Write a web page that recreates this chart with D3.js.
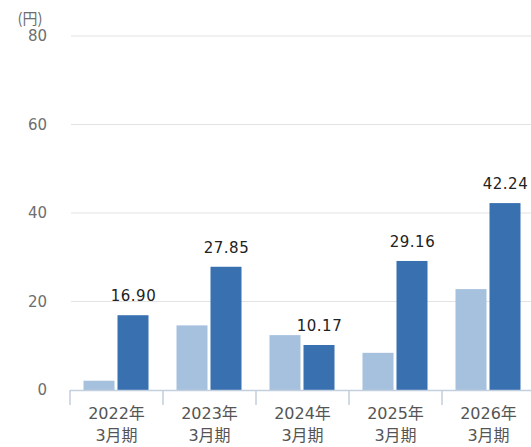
<!DOCTYPE html>
<html><head><meta charset="utf-8">
<script src="https://cdn.jsdelivr.net/npm/d3@7"></script>
<style>body{margin:0;background:#fff;}svg{display:block;font-family:"DejaVu Sans","Noto Sans CJK JP",sans-serif;}</style>
</head><body>
<svg id="c" width="531" height="447"></svg>
<script>
const categories = ["2022年\n3月期","2023年\n3月期","2024年\n3月期","2025年\n3月期","2026年\n3月期"];
const seriesLight = [2.1, 14.6, 12.4, 8.4, 22.8];
const seriesDark = [16.90, 27.85, 10.17, 29.16, 42.24];
const darkLabels = ["16.90","27.85","10.17","29.16","42.24"];
const yTicks = [0, 20, 40, 60, 80];

const svg = d3.select("#c");
const x = d3.scaleBand().domain(categories).range([70, 535]).paddingInner(0).paddingOuter(0);
const y = d3.scaleLinear().domain([0, 80]).range([390, 36]);

// gridlines
svg.append("g").selectAll("line").data(yTicks.filter(d=>d>0)).join("line")
  .attr("x1", 71).attr("x2", 531).attr("y1", d=>y(d)).attr("y2", d=>y(d))
  .attr("stroke", "#e3e3e3").attr("stroke-width", 1.2);

// y labels
svg.append("g").selectAll("text").data(yTicks).join("text")
  .attr("x", 47).attr("y", d=>y(d)).attr("dy", "0.36em").attr("text-anchor", "end")
  .attr("fill", "#6e6e6e").attr("font-size", 15).text(d=>d);
svg.append("text").attr("x", 30).attr("y", 24).attr("text-anchor", "middle")
  .attr("fill", "#6e6e6e").attr("font-size", 15).attr("font-family", "'Noto Sans CJK JP',sans-serif").text("(円)");

const bw = 31, gap = 3;
const idx = d3.range(categories.length);
// light bars
svg.append("g").selectAll("rect").data(idx).join("rect")
  .attr("x", i => x(categories[i]) + x.bandwidth()/2 - bw - gap/2 - 0.5)
  .attr("y", i => y(seriesLight[i])).attr("width", bw)
  .attr("height", i => y(0) - y(seriesLight[i])).attr("fill", "#a6c1de");
// dark bars
svg.append("g").selectAll("rect").data(idx).join("rect")
  .attr("x", i => x(categories[i]) + x.bandwidth()/2 + gap/2 - 0.5)
  .attr("y", i => y(seriesDark[i])).attr("width", bw)
  .attr("height", i => y(0) - y(seriesDark[i])).attr("fill", "#3870b0");
// labels
svg.append("g").selectAll("text").data(idx).join("text")
  .attr("x", i => x(categories[i]) + x.bandwidth()/2 + gap/2 + bw/2)
  .attr("y", i => y(seriesDark[i]) - 14)
  .attr("text-anchor", "middle").attr("fill", "#222").attr("font-size", 15)
  .attr("letter-spacing", "0.5")
  .text(i => darkLabels[i]);

// x axis
const ax = svg.append("g");
ax.append("line").attr("x1", 70).attr("x2", 531).attr("y1", y(0)+0.5).attr("y2", y(0)+0.5)
  .attr("stroke", "#c3cfdd").attr("stroke-width", 1.5);
ax.selectAll("line.t").data(categories.map(c=>x(c)).concat([x.range()[1]])).join("line").attr("class","t")
  .attr("x1", d=>d).attr("x2", d=>d).attr("y1", y(0)).attr("y2", y(0)+15)
  .attr("stroke", "#c3cfdd").attr("stroke-width", 1.5);
const xl = ax.selectAll("text").data(categories).join("text")
  .attr("x", d => x(d) + x.bandwidth()/2).attr("text-anchor", "middle")
  .attr("fill", "#555").attr("font-size", 16);
xl.each(function(d){
  const parts = d.split("\n");
  d3.select(this).selectAll("tspan").data(parts).join("tspan")
    .attr("x", x(d) + x.bandwidth()/2).attr("y", (p,j)=> 419 + j*22).text(p=>p);
});
</script>
</body></html>
